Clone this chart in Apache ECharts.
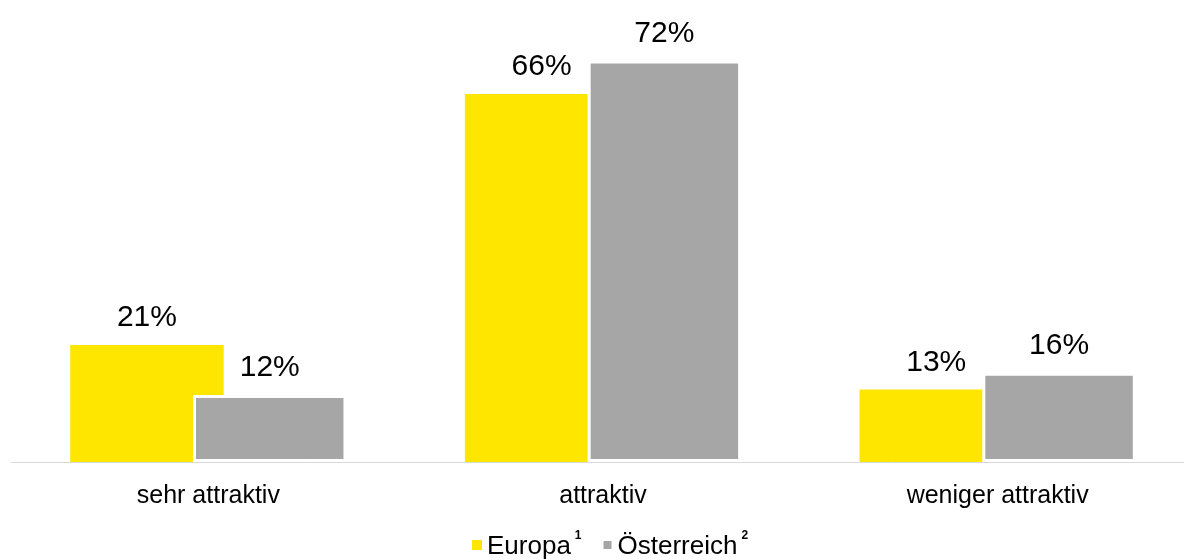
<!DOCTYPE html>
<html><head><meta charset="utf-8">
<script src="https://cdn.jsdelivr.net/npm/echarts@6/dist/echarts.min.js"></script>
<style>html,body{margin:0;padding:0;background:#fff}#c{width:1184px;height:560px}</style>
</head><body><div id="c"></div>
<script>
const categories = ['sehr attraktiv', 'attraktiv', 'weniger attraktiv'];
const europa = [21, 66, 13];
const oesterreich = [12, 72, 16];
const seriesNames = ['Europa', 'Österreich'];
const superscripts = {'Europa': '1', 'Österreich': '2'};

const FONT = 'Liberation Sans, Arial, sans-serif';
const chart = echarts.init(document.getElementById('c'));
const lbl = {show: true, position: 'top', distance: 12, fontSize: 30, color: '#000', fontFamily: FONT, formatter: p => p.value + '%'};
chart.setOption({
  animation: false,
  grid: {left: 11, width: 1184, top: 16, bottom: 98, outerBoundsMode: 'none', containLabel: false},
  xAxis: {type: 'category', data: categories,
    axisLine: {lineStyle: {color: '#d9d9d9', width: 1}}, axisTick: {show: false},
    axisLabel: {fontSize: 25, color: '#000', fontFamily: FONT, margin: 22}},
  yAxis: {type: 'value', min: 0, max: 80, show: false, splitLine: {show: false}},
  legend: {top: 525, left: 467, icon: 'rect', itemWidth: 10, itemHeight: 10, itemGap: 20,
    formatter: n => '{a|' + n + '}{s|' + superscripts[n] + '}',
    textStyle: {fontFamily: FONT, rich: {
      a: {fontSize: 26, color: '#000', fontFamily: FONT, verticalAlign: 'bottom', lineHeight: 30},
      s: {fontSize: 12, fontWeight: 'bold', color: '#000', fontFamily: FONT, verticalAlign: 'top', padding: [0, 0, 24, 4], lineHeight: 30}}}},
  series: [
    {name: seriesNames[0], type: 'bar', data: europa, barGap: '-20%', barCategoryGap: '30%',
      itemStyle: {color: '#FFE600'}, label: lbl},
    {name: seriesNames[1], type: 'bar', data: oesterreich,
      itemStyle: {color: '#A6A6A6', borderColor: '#fff', borderWidth: 3}, label: lbl}
  ]
});
</script></body></html>
